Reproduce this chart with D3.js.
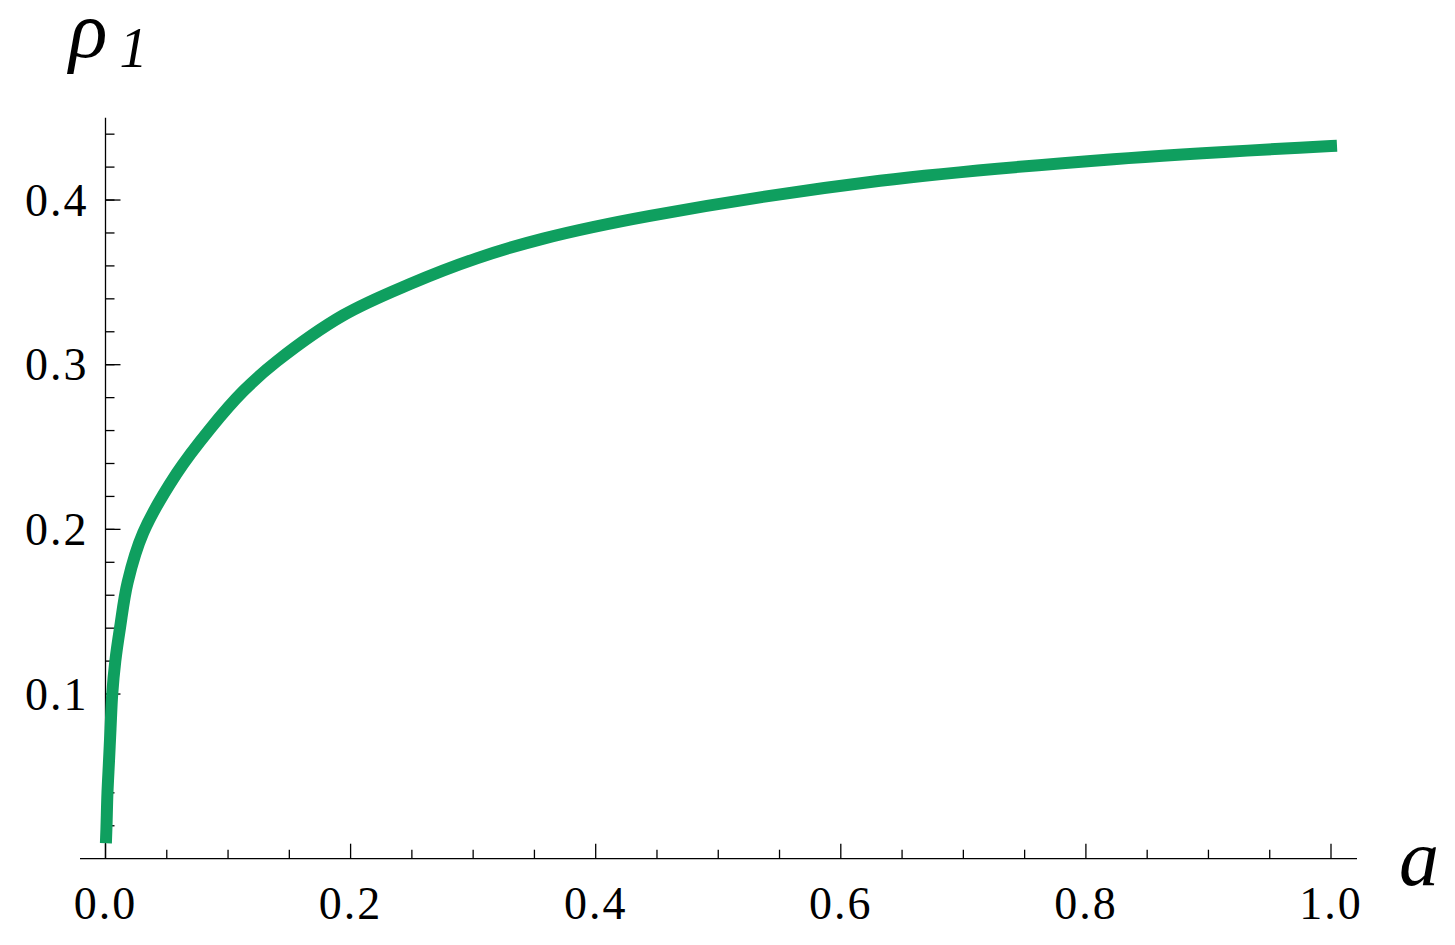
<!DOCTYPE html>
<html>
<head>
<meta charset="utf-8">
<script src="https://cdn.jsdelivr.net/npm/d3@7"></script>
<style>
  body { margin: 0; background: #fff; }
  svg text { font-family: "Liberation Serif", "Times New Roman", serif; }
</style>
</head>
<body>
<svg id="chart"></svg>
<script>
// values
var aValues   = [0.0005, 0.0008, 0.0016, 0.0029, 0.0041, 0.0055, 0.008, 0.0118, 0.0181, 0.0308, 0.0581, 0.0853, 0.1125, 0.1397, 0.194, 0.2485, 0.3029, 0.3573, 0.4443, 0.632, 0.8224, 1.0];
var rhoValues = [0.013, 0.0194, 0.040, 0.060, 0.079, 0.100, 0.120, 0.140, 0.168, 0.198, 0.234, 0.261, 0.284, 0.302, 0.330, 0.349, 0.3646, 0.3766, 0.3904, 0.4117, 0.4248, 0.4328];

var xMajor = [0, 0.2, 0.4, 0.6, 0.8, 1.0];
var xMinor = d3.range(1, 20).map(i => i * 0.05);
var yMajor = [0.1, 0.2, 0.3, 0.4];
var yMinor = d3.range(1, 23).map(i => i * 0.02);

var width = 1455;
var height = 945;

var svg = d3.select('#chart')
    .attr('width', width)
    .attr('height', height);

var x = d3.scaleLinear().domain([0, 1]).range([105.5, 1331]);
var y = d3.scaleLinear().domain([0, 0.45]).range([858.7, 117.7]);

// x axis
var xAxis = svg.append('g').attr('transform', `translate(0, ${y(0)})`);
xAxis.append('line')
    .attr('x1', 80).attr('x2', 1357)
    .attr('stroke', 'black').attr('stroke-width', 1.3);
xAxis.selectAll('.minor')
    .data(xMinor.filter(v => !xMajor.some(m => Math.abs(m - v) < 1e-9)))
    .enter().append('line')
    .attr('x1', d => x(d)).attr('x2', d => x(d))
    .attr('y1', 0).attr('y2', -9)
    .attr('stroke', 'black').attr('stroke-width', 1.3);
xAxis.selectAll('.major')
    .data(xMajor)
    .enter().append('line')
    .attr('x1', d => x(d)).attr('x2', d => x(d))
    .attr('y1', 0).attr('y2', -15)
    .attr('stroke', 'black').attr('stroke-width', 1.3);
xAxis.selectAll('.lbl')
    .data(xMajor)
    .enter().append('text')
    .attr('x', d => x(d))
    .attr('y', 60)
    .attr('text-anchor', 'middle')
    .style('font-size', '46px')
    .style('letter-spacing', '2px')
    .text(d => d3.format('.1f')(d));

// y axis
var yAxis = svg.append('g').attr('transform', `translate(${x(0)}, 0)`);
yAxis.append('line')
    .attr('y1', y(0.45)).attr('y2', y(0))
    .attr('stroke', 'black').attr('stroke-width', 1.3);
yAxis.selectAll('.minor')
    .data(yMinor)
    .enter().append('line')
    .attr('y1', d => y(d)).attr('y2', d => y(d))
    .attr('x1', 0).attr('x2', 9)
    .attr('stroke', 'black').attr('stroke-width', 1.3);
yAxis.selectAll('.major')
    .data(yMajor)
    .enter().append('line')
    .attr('y1', d => y(d)).attr('y2', d => y(d))
    .attr('x1', 0).attr('x2', 15)
    .attr('stroke', 'black').attr('stroke-width', 1.3);
yAxis.selectAll('.lbl')
    .data(yMajor)
    .enter().append('text')
    .attr('x', -17)
    .attr('y', d => y(d))
    .attr('dy', '0.34em')
    .attr('text-anchor', 'end')
    .style('font-size', '46px')
    .style('letter-spacing', '2px')
    .text(d => d3.format('.1f')(d));

// curve
var line = d3.line()
    .x(d => x(d[0]))
    .y(d => y(d[1]))
    .curve(d3.curveCatmullRom.alpha(0.5));

svg.append('path')
    .datum(d3.zip(aValues, rhoValues))
    .attr('d', line)
    .attr('fill', 'none')
    .attr('stroke', '#0f9f5f')
    .attr('stroke-width', 12)
    .attr('stroke-linecap', 'square')
    .attr('stroke-linejoin', 'round');

// axis labels
var yLab = svg.append('text')
    .attr('x', 69)
    .attr('y', 57)
    .style('font-style', 'italic');
yLab.append('tspan').style('font-size', '80px').text('ρ');
yLab.append('tspan').attr('dx', 12).attr('dy', 10).style('font-size', '56px').text('1');

svg.append('text')
    .attr('x', 1399)
    .attr('y', 885)
    .style('font-style', 'italic')
    .style('font-size', '80px')
    .text('a');
</script>
</body>
</html>
